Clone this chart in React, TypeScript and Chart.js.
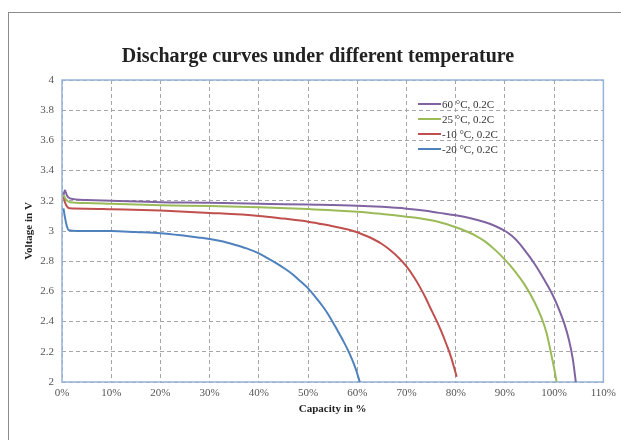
import React, { useEffect, useRef } from "react";
import { Chart, registerables } from "chart.js";

Chart.register(...registerables);

const titleText = "Discharge curves under different temperature";
const xTitle = "Capacity in %";
const yTitle = "Voltage in V";
const seriesLabels = ["60 °C, 0.2C", "25 °C, 0.2C", "-10 °C, 0.2C", "-20 °C, 0.2C"];
const seriesColors = ["#8064A2", "#9BBB59", "#C0504D", "#4F81BD"];

const cap60 = [0.3, 0.6, 1.0, 1.6, 5, 10, 20, 30, 40, 50, 60, 65, 70, 73.5, 76.6, 80, 83, 86, 88, 90, 91, 92, 93, 94, 95, 96, 97, 98, 99.7, 101, 102, 103, 103.8, 104.4];
const volt60 = [3.24, 3.27, 3.235, 3.216, 3.205, 3.2, 3.19, 3.187, 3.18, 3.175, 3.168, 3.16, 3.148, 3.135, 3.12, 3.104, 3.085, 3.058, 3.033, 3.0, 2.978, 2.95, 2.915, 2.873, 2.83, 2.783, 2.732, 2.677, 2.576, 2.48, 2.393, 2.28, 2.15, 2.0];

const cap25 = [0.3, 0.8, 1.6, 5, 10, 20, 30, 40, 50, 60, 65, 70, 73.5, 76.6, 80, 82, 84, 86, 88, 90, 92, 94, 96, 97.5, 98.5, 99.3, 100, 100.5];
const volt25 = [3.24, 3.21, 3.19, 3.185, 3.18, 3.17, 3.166, 3.157, 3.145, 3.128, 3.113, 3.095, 3.08, 3.06, 3.025, 3.0, 2.97, 2.93, 2.875, 2.81, 2.735, 2.645, 2.53, 2.42, 2.32, 2.2, 2.09, 2.0];

const capM10 = [0.3, 0.6, 1.6, 5, 10, 20, 30, 40, 45, 50, 52, 55, 57, 59, 60.5, 62, 63.2, 65, 66.6, 68.5, 70, 71.5, 72.7, 74, 74.7, 75.6, 76.4, 77.2, 78.1, 79, 80.2];
const voltM10 = [3.23, 3.19, 3.15, 3.148, 3.144, 3.135, 3.12, 3.1, 3.082, 3.062, 3.05, 3.032, 3.018, 3.002, 2.985, 2.965, 2.947, 2.914, 2.876, 2.82, 2.765, 2.695, 2.63, 2.55, 2.5, 2.44, 2.385, 2.325, 2.25, 2.17, 2.035];

const capM20 = [0.3, 0.6, 1.0, 1.4, 3, 10, 15, 20, 25, 28, 30, 32.5, 34.8, 37.5, 40, 41.8, 43.6, 45.3, 46.9, 48.5, 50, 51.5, 53, 54, 55, 56, 57.1, 58, 58.8, 59.7, 60.5];
const voltM20 = [3.15, 3.09, 3.03, 3.005, 3.0, 3.0, 2.993, 2.985, 2.968, 2.956, 2.947, 2.932, 2.912, 2.885, 2.852, 2.82, 2.786, 2.75, 2.712, 2.665, 2.62, 2.562, 2.5, 2.452, 2.398, 2.34, 2.275, 2.218, 2.16, 2.085, 2.0];

const xMin = 0;
const xMax = 110;
const xStep = 10;
const yMin = 2;
const yMax = 4;
const yStep = 0.2;

const capacities = [cap60, cap25, capM10, capM20];
const voltages = [volt60, volt25, voltM10, voltM20];

const serif = "'Liberation Serif', 'Times New Roman', serif";

const decorPlugin = {
  id: "decor",
  beforeDatasetsDraw(chart: any) {
    const { ctx, chartArea } = chart;
    ctx.save();
    ctx.strokeStyle = "#95B3D7";
    ctx.lineWidth = 1.5;
    ctx.strokeRect(chartArea.left, chartArea.top, chartArea.right - chartArea.left, chartArea.bottom - chartArea.top);
    ctx.restore();
  },
  afterDraw(chart: any) {
    const { ctx } = chart;
    ctx.save();
    ctx.fillStyle = "#222";
    ctx.font = "bold 20px " + serif;
    ctx.textAlign = "center";
    ctx.textBaseline = "middle";
    ctx.fillText(titleText, 318, 57);
    ctx.font = "11px " + serif;
    ctx.textAlign = "left";
    chart.data.datasets.forEach((ds: any, i: number) => {
      const y = 104 + i * 15;
      ctx.strokeStyle = ds.borderColor;
      ctx.lineWidth = 2;
      ctx.beginPath();
      ctx.moveTo(418, y);
      ctx.lineTo(441, y);
      ctx.stroke();
      ctx.fillStyle = "#333";
      ctx.fillText(ds.label, 442, y + 1);
    });
    ctx.restore();
  },
};

export default function App() {
  const ref = useRef<HTMLCanvasElement>(null);
  useEffect(() => {
    if (!ref.current) return;
    const chart = new Chart(ref.current, {
      type: "line",
      data: {
        datasets: seriesLabels.map((label, i) => ({
          label,
          data: capacities[i].map((x, j) => ({ x, y: voltages[i][j] })),
          borderColor: seriesColors[i],
          backgroundColor: seriesColors[i],
          borderWidth: 2,
          pointRadius: 0,
          cubicInterpolationMode: "monotone" as const,
          fill: false,
        })),
      },
      options: {
        animation: false,
        responsive: false,
        maintainAspectRatio: false,
        layout: { padding: { left: 0, top: 80, right: 17, bottom: 18 } },
        plugins: { legend: { display: false }, title: { display: false }, tooltip: { enabled: false } },
        scales: {
          x: {
            type: "linear",
            min: xMin,
            max: xMax,
            ticks: {
              stepSize: xStep,
              callback: (v: any) => Math.round(v) + "%",
              color: "#555",
              font: { family: serif, size: 11 },
              padding: 5,
              maxRotation: 0,
            },
            grid: { color: "#A6A6A6", drawTicks: false, lineWidth: 1 },
            border: { display: false, dash: [4, 3] },
            title: {
              display: true,
              text: xTitle,
              color: "#222",
              font: { family: serif, size: 11, weight: "bold" },
              padding: { top: 0, bottom: 6 },
            },
            afterFit: (s: any) => {
              s.height = 40;
            },
          },
          y: {
            min: yMin,
            max: yMax,
            ticks: {
              stepSize: yStep,
              callback: (v: any) => String(Math.round(v * 10) / 10),
              color: "#555",
              font: { family: serif, size: 11 },
              padding: 8,
            },
            grid: { color: "#A6A6A6", drawTicks: false, lineWidth: 1 },
            border: { display: false, dash: [4, 3] },
            title: {
              display: true,
              text: yTitle,
              color: "#222",
              font: { family: serif, size: 11, weight: "bold" },
              padding: { top: 23, bottom: 0 },
            },
            afterFit: (s: any) => {
              s.width = 62;
            },
          },
        },
      },
      plugins: [decorPlugin],
    });
    return () => chart.destroy();
  }, []);
  return (
    <div style={{ position: "fixed", left: 0, top: 0, width: 621, height: 440, overflow: "hidden", background: "#fff" }}>
      <div style={{ position: "absolute", left: 8, top: 12, width: 660, height: 480, border: "1.5px solid #8c8c8c" }} />
      <canvas ref={ref} width={621} height={440} style={{ position: "absolute", left: 0, top: 0 }} />
    </div>
  );
}
